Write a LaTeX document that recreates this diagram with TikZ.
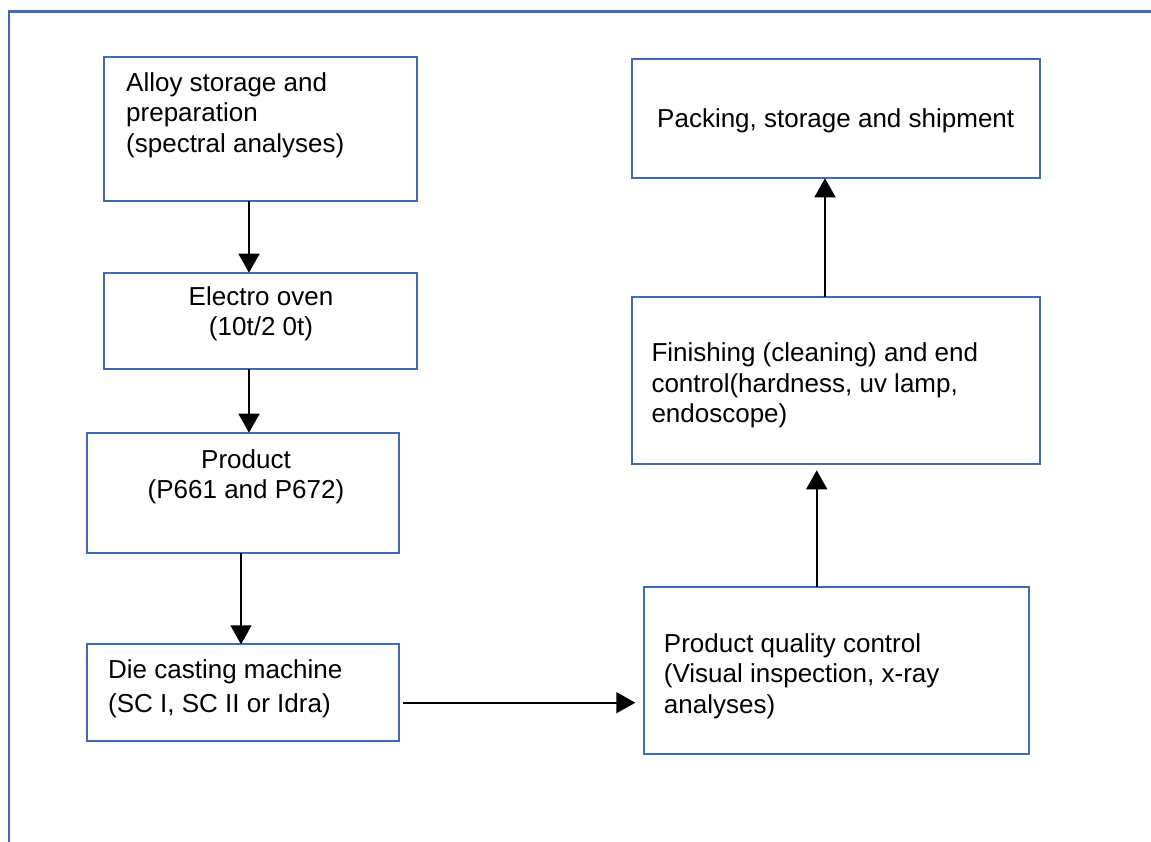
\documentclass[tikz,border=0pt]{standalone}
\usepackage{fontspec}
\setmainfont{Liberation Sans}
\usetikzlibrary{arrows.meta}
\definecolor{boxblue}{RGB}{66,104,184}

\begin{document}
\begin{tikzpicture}[%
        x = 1pt,
        y = -1pt,
        stage/.style = {draw = boxblue, line width = 2pt, inner sep = 0pt,
                        outer sep = 0pt, anchor = north west},
        txt/.style = {inner sep = 0pt, font = \fontsize{26}{30.5}\selectfont},
        flow/.style = {draw = black, line width = 1.6pt,
                       -{Triangle[length=19pt, width=21pt]}},
        ]

\useasboundingbox (0,0) rectangle (1151,842);

% page frame, only top and left are visible
\draw[boxblue, line width = 2.4pt] (1151,11.5) -- (8.8,11.5) -- (8.8,842);

\foreach \NAME/\X/\Y/\W/\H in {alloy/104.3/57.3/312.7/143.7,
                               oven/104.3/272.7/312.7/96,
                               prod/86.7/432.7/312.3/120,
                               die/86.7/644.3/312.3/96.2,
                               qual/644.3/586.7/384.2/167.6,
                               fin/632.3/297.3/407.2/167,
                               pack/632.3/59.3/407.2/119}{%
    \node[stage, minimum width = \W, minimum height = \H] (\NAME) at (\X,\Y) {};
    }

\node (alloytxt) [txt, anchor = north west, align = left] at (126,72.4)
    {Alloy storage and\\ preparation\\ (spectral analyses)};
\node (oventxt) [txt, anchor = north, align = center] at (261,286.4)
    {Electro oven\\ (10t/2 0t)};
\node (prodtxt) [txt, anchor = north, align = center] at (246,449.4)
    {Product\\ (P661 and P672)};
\node (dietxt) [txt, anchor = north west, align = left] at (108,659.7)
    {Die casting machine\\[3.5pt] (SC I, SC II or Idra)};
\node (qualtxt) [txt, anchor = north west, align = left] at (663.7,633.1)
    {Product quality control\\ (Visual inspection, x-ray\\ analyses)};
\node (fintxt) [txt, anchor = north west, align = left] at (651.3,342.7)
    {Finishing (cleaning) and end\\ control(hardness, uv lamp,\\ endoscope)};
\node (packtxt) [txt, anchor = base] at (835.7,127.3)
    {Packing, storage and shipment};

\coordinate (c1) at (249,0);
\coordinate (c2) at (241,0);
\coordinate (c3) at (0,702.7);
\coordinate (c4) at (816.7,0);
\coordinate (c5) at (825,0);

\draw[flow] (alloy.south -| c1) -- (oven.north -| c1);
\draw[flow] (oven.south -| c1) -- (prod.north -| c1);
\draw[flow] (prod.south -| c2) -- (die.north -| c2);
\draw[flow, shorten <= 4pt, shorten >= 9pt] (die.east |- c3) -- (qual.west |- c3);
\draw[flow, shorten >= 6pt] (qual.north -| c4) -- (fin.south -| c4);
\draw[flow] (fin.north -| c5) -- (pack.south -| c5);

\end{tikzpicture}
\end{document}
